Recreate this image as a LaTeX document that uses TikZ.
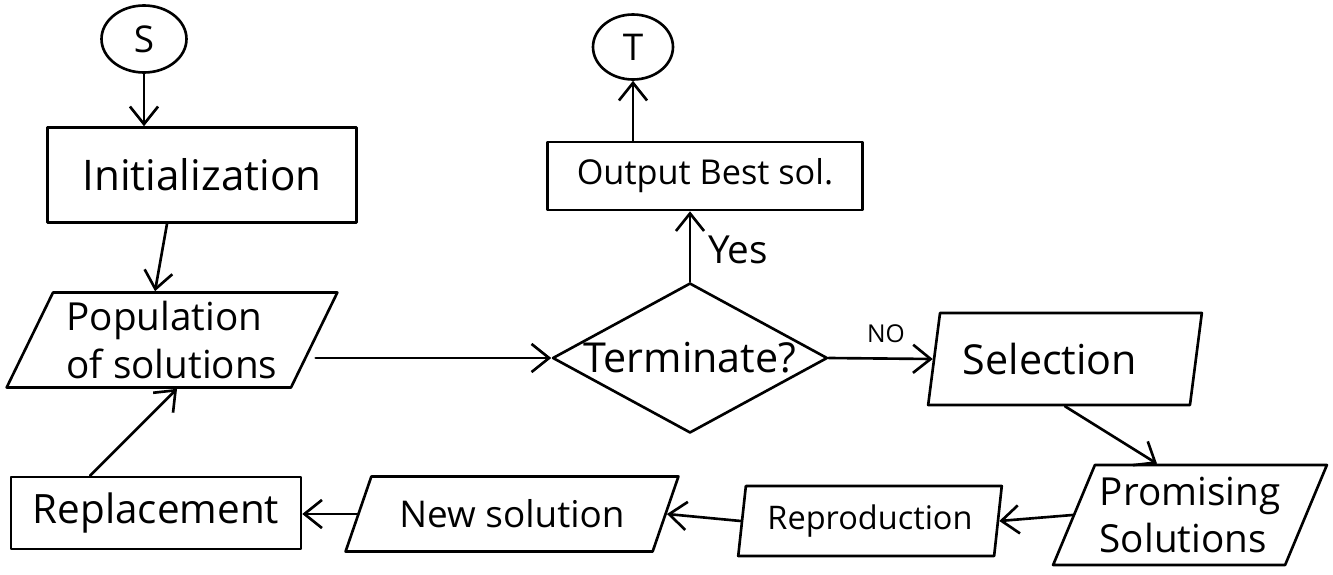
\documentclass[tikz,border=0pt]{standalone}
\usepackage{fontspec}
\setmainfont{Open Sans}
\usetikzlibrary{shapes.geometric,arrows.meta,calc}
\begin{document}
\begin{tikzpicture}[x=0.02cm,y=-0.02cm,
  every node/.style={line width=1.5pt, inner sep=0pt},
  fs/.style={font=\fontsize{#1}{27}\selectfont},
  box/.style={draw, rectangle},
  para/.style={draw, trapezium, trapezium stretches=true},
  endpt/.style={draw, ellipse},
  decision/.style={draw, diamond},
  flow/.style={line width=1.5pt, line cap=round, line join=round, -{Straight Barb[length=10pt,width=16pt,line width=1.5pt]}},
  line join=round
]
\useasboundingbox (0,0) rectangle (1333,575);

\node[endpt, fs=21, minimum width=1.7cm, minimum height=1.34cm] (S) at (144,39) {S};
\node[endpt, fs=21, minimum width=1.6cm, minimum height=1.3cm] (T) at (633,47) {T};
\node[box, fs=24, minimum width=6.18cm, minimum height=1.9cm] (init) at (202,175) {Initialization};
\node[para, fs=22, align=left, trapezium left angle=62, trapezium right angle=118,
      minimum width=6.62cm, minimum height=1.9cm] (pop) at (172,340) {Population\\of solutions};
\node[box, fs=19.5, minimum width=6.3cm, minimum height=1.36cm] (out) at (705,176) {Output Best sol.};
\node[decision, fs=23.5, aspect=1.82, minimum width=5.5cm, minimum height=3cm] (term) at (690,358) {Terminate?};
\node[para, fs=23.5, trapezium left angle=73, trapezium right angle=107,
      minimum width=5.48cm, minimum height=1.84cm] (sel) at (1065,359) {Selection\hspace*{0.6cm}};
\node[para, fs=22, align=left, trapezium left angle=62.5, trapezium right angle=117.5,
      minimum width=5.48cm, minimum height=2cm] (prom) at (1190,515) {Promising\\Solutions};
\node[para, fs=18.5, trapezium left angle=79, trapezium right angle=101,
      minimum width=5.28cm, minimum height=1.4cm] (repr) at (870,521) {Reproduction};
\node[para, fs=21, trapezium left angle=54, trapezium right angle=126,
      minimum width=6.66cm, minimum height=1.5cm] (news) at (512,514) {New solution};
\node[box, fs=23, minimum width=5.8cm, minimum height=1.44cm] (repl) at (156,513) {Replacement};

\node[fs=22] (yes) at (738,250) {Yes};
\node[fs=14] (no) at (886,334) {NO};

\draw[flow] (S.south) -- (S.south |- init.north);
\draw[flow] ($(init.south)+(-35,0)$) -- ($(pop.north)+(-17,0)$);
\draw[flow] (term.west -| pop.east) -- (term.west);
\draw[flow] (term.north) -- (term.north |- out.south);
\draw[flow] (T.south |- out.north) -- (T.south);
\draw[flow] (term.east) -- (sel.west);
\draw[flow] (sel.south) -- ($(prom.north)+(-33,0)$);
\draw[flow] (prom.west) -- (repr.east);
\draw[flow] (repr.west) -- (news.east);
\draw[flow] (news.west) -- (news.west -| repl.east);
\draw[flow] ($(repl.north)+(-66,0)$) -- ($(pop.south)+(5,0)$);
\end{tikzpicture}
\end{document}
